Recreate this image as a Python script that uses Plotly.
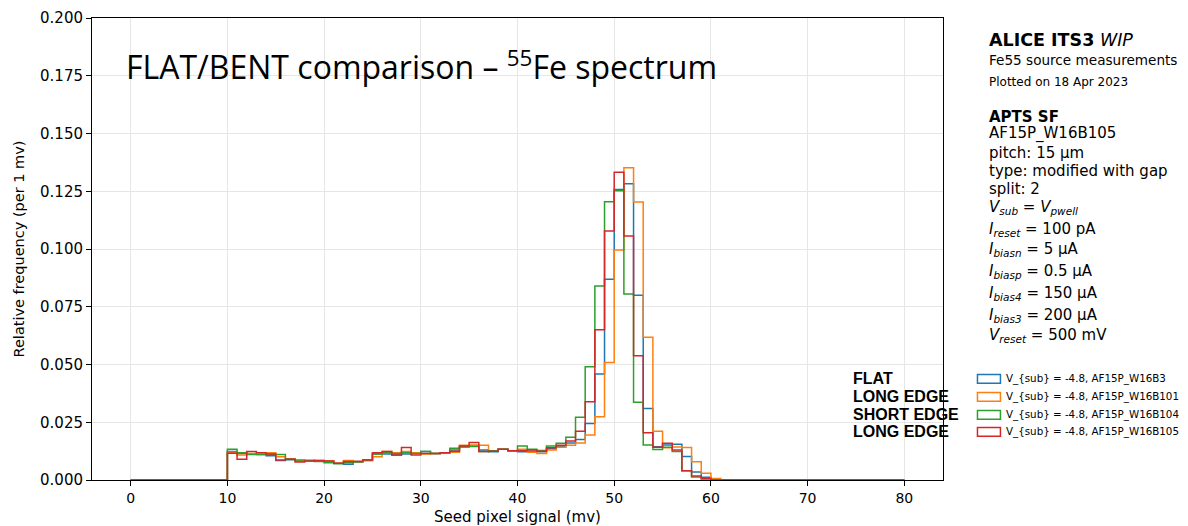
import plotly.graph_objects as go

# ---------------- data ----------------
bin_edges = list(range(0, 81))  # 1 mV bins from 0 to 80 mV

series_names = [
    "V_{sub} = -4.8, AF15P_W16B3",
    "V_{sub} = -4.8, AF15P_W16B101",
    "V_{sub} = -4.8, AF15P_W16B104",
    "V_{sub} = -4.8, AF15P_W16B105",
]
series_colors = ["#1f77b4", "#ff7f0e", "#2ca02c", "#d62728"]
side_labels = ["FLAT", "LONG EDGE", "SHORT EDGE", "LONG EDGE"]

# relative frequency per bin (bins 0..79); bins 0-9 and 61-79 are empty
w16b3 = [0] * 10 + [
    0.0123, 0.0115, 0.0112, 0.0110, 0.0105, 0.0084, 0.0088, 0.0082, 0.0082, 0.0083,
    0.0080, 0.0072, 0.0068, 0.0080, 0.0085, 0.0113, 0.0113, 0.0108, 0.0113, 0.0118,
    0.0123, 0.0115, 0.0118, 0.0130, 0.0143, 0.0147, 0.0130, 0.0122, 0.0133, 0.0127,
    0.0122, 0.0125, 0.0122, 0.0135, 0.0145, 0.0160, 0.0175, 0.0245, 0.0459, 0.0869,
    0.1258, 0.1282, 0.0800, 0.0309, 0.0144, 0.0152, 0.0155, 0.0102, 0.0035, 0.0012,
    0.0003,
] + [0] * 19

w16b101 = [0] * 10 + [
    0.0120, 0.0108, 0.0115, 0.0118, 0.0118, 0.0101, 0.0092, 0.0083, 0.0082, 0.0084,
    0.0082, 0.0072, 0.0084, 0.0080, 0.0083, 0.0101, 0.0123, 0.0118, 0.0123, 0.0118,
    0.0113, 0.0115, 0.0118, 0.0120, 0.0150, 0.0152, 0.0150, 0.0127, 0.0133, 0.0127,
    0.0133, 0.0120, 0.0115, 0.0130, 0.0142, 0.0150, 0.0160, 0.0195, 0.0274, 0.0509,
    0.0996, 0.1352, 0.1203, 0.0618, 0.0211, 0.0140, 0.0143, 0.0141, 0.0079, 0.0029,
    0.0006,
] + [0] * 19

w16b104 = [0] * 10 + [
    0.0133, 0.0118, 0.0110, 0.0110, 0.0112, 0.0110, 0.0090, 0.0087, 0.0085, 0.0080,
    0.0075, 0.0070, 0.0075, 0.0078, 0.0087, 0.0113, 0.0118, 0.0115, 0.0118, 0.0115,
    0.0123, 0.0115, 0.0118, 0.0137, 0.0145, 0.0145, 0.0123, 0.0127, 0.0133, 0.0127,
    0.0147, 0.0133, 0.0128, 0.0147, 0.0159, 0.0185, 0.0272, 0.0490, 0.0840, 0.1205,
    0.1252, 0.0805, 0.0337, 0.0152, 0.0132, 0.0142, 0.0123, 0.0040, 0.0013, 0.0004,
    0.0,
] + [0] * 19

w16b105 = [0] * 10 + [
    0.0116, 0.0090, 0.0123, 0.0118, 0.0113, 0.0087, 0.0090, 0.0078, 0.0082, 0.0084,
    0.0082, 0.0072, 0.0080, 0.0080, 0.0087, 0.0118, 0.0123, 0.0108, 0.0141, 0.0108,
    0.0115, 0.0115, 0.0118, 0.0125, 0.0147, 0.0162, 0.0123, 0.0125, 0.0133, 0.0127,
    0.0127, 0.0130, 0.0125, 0.0140, 0.0150, 0.0169, 0.0211, 0.0339, 0.0650, 0.1078,
    0.1332, 0.1056, 0.0538, 0.0205, 0.0142, 0.0159, 0.0130, 0.0040, 0.0017, 0.0007,
    0.0,
] + [0] * 19

series_values = [w16b3, w16b101, w16b104, w16b105]

x_ticks = list(range(0, 81, 10))
y_ticks = [0.0, 0.025, 0.05, 0.075, 0.1, 0.125, 0.15, 0.175, 0.2]

info_lines = [
    ("AF15P_W16B105", 0.749),
    ("pitch: 15 µm", 0.708),
    ("type: modified with gap", 0.669),
    ("split: 2", 0.630),
    ("<i>V</i><sub><i>sub</i></sub> = <i>V</i><sub><i>pwell</i></sub>", 0.589),
    ("<i>I</i><sub><i>reset</i></sub> = 100 pA", 0.543),
    ("<i>I</i><sub><i>biasn</i></sub> = 5 µA", 0.498),
    ("<i>I</i><sub><i>biasp</i></sub> = 0.5 µA", 0.452),
    ("<i>I</i><sub><i>bias4</i></sub> = 150 µA", 0.403),
    ("<i>I</i><sub><i>bias3</i></sub> = 200 µA", 0.357),
    ("<i>V</i><sub><i>reset</i></sub> = 500 mV", 0.312),
]

# ---------------- figure ----------------
FONT = "DejaVu Sans"
fig = go.Figure()

for name, color, vals in zip(series_names, series_colors, series_values):
    xs = [bin_edges[0]] + bin_edges
    ys = [0] + list(vals) + [0]
    fig.add_trace(go.Scatter(
        x=xs, y=ys, mode="lines", name=name,
        line=dict(color=color, width=1.5, shape="hv"),
        showlegend=False, hoverinfo="skip",
    ))

# the page body has an 8px margin, so the figure is 8px smaller and offsets shifted
fig.update_layout(
    width=1180, height=518,
    margin=dict(l=84, r=245, t=10, b=46),
    paper_bgcolor="white", plot_bgcolor="white",
    font=dict(family=FONT, size=14, color="black"),
)

fig.update_xaxes(
    range=[-4, 84], tickvals=x_ticks, ticktext=[str(t) for t in x_ticks],
    showline=True, linecolor="black", linewidth=1, mirror=True,
    ticks="outside", ticklen=5, tickcolor="black",
    showgrid=True, gridcolor="#e6e6e6", gridwidth=1, zeroline=False,
    tickfont=dict(family=FONT, size=14), automargin=False,
    title=dict(text="Seed pixel signal (mv)", font=dict(family=FONT, size=15), standoff=7),
)
fig.update_yaxes(
    range=[0, 0.2], tickvals=y_ticks, ticktext=[f"{t:.3f}" for t in y_ticks],
    showline=True, linecolor="black", linewidth=1, mirror=True,
    ticks="outside", ticklen=5, tickcolor="black",
    showgrid=True, gridcolor="#e6e6e6", gridwidth=1, zeroline=False,
    tickfont=dict(family=FONT, size=15), automargin=False,
    title=dict(text="Relative frequency (per 1 mv)", font=dict(family=FONT, size=14.5), standoff=11),
)

ann = []
# big slide title
ann.append(dict(
    text="FLAT/BENT comparison – <sup>55</sup>Fe spectrum",
    x=0.0375, y=0.899, xref="paper", yref="paper", xanchor="left", yanchor="middle",
    showarrow=False, font=dict(family="Open Sans", size=32, color="black"),
))
# right panel header
px0 = 1.0517
ann.append(dict(text="<b>ALICE ITS3</b> <i>WIP</i>", x=px0, y=0.952, xref="paper", yref="paper",
                xanchor="left", yanchor="middle", showarrow=False, font=dict(family=FONT, size=17.5)))
ann.append(dict(text="Fe55 source measurements", x=px0, y=0.909, xref="paper", yref="paper",
                xanchor="left", yanchor="middle", showarrow=False, font=dict(family=FONT, size=13.6)))
ann.append(dict(text="Plotted on 18 Apr 2023", x=px0, y=0.861, xref="paper", yref="paper",
                xanchor="left", yanchor="middle", showarrow=False, font=dict(family=FONT, size=12)))
ann.append(dict(text="<b>APTS SF</b>", x=px0, y=0.786, xref="paper", yref="paper",
                xanchor="left", yanchor="middle", showarrow=False, font=dict(family=FONT, size=15)))
for txt, yy in info_lines:
    ann.append(dict(text=txt, x=px0, y=yy, xref="paper", yref="paper",
                    xanchor="left", yanchor="middle", showarrow=False, font=dict(family=FONT, size=15)))

# manual legend (outlined boxes) + side labels
leg_y = [0.219, 0.180, 0.141, 0.104]
shapes = []
for name, color, lab, yy in zip(series_names, series_colors, side_labels, leg_y):
    shapes.append(dict(type="rect", xref="paper", yref="paper",
                       x0=1.0405, x1=1.0675, y0=yy - 0.0095, y1=yy + 0.0095,
                       line=dict(color=color, width=1.5), fillcolor="rgba(0,0,0,0)"))
    ann.append(dict(text=name, x=1.0715, y=yy, xref="paper", yref="paper",
                    xanchor="left", yanchor="middle", showarrow=False,
                    font=dict(family=FONT, size=10.3)))
    ann.append(dict(text=f"<b>{lab}</b>", x=0.8915, y=yy, xref="paper", yref="paper",
                    xanchor="left", yanchor="middle", showarrow=False,
                    font=dict(family="Liberation Sans", size=16, color="black")))

fig.update_layout(annotations=ann, shapes=shapes)

fig.write_html("out.html")
